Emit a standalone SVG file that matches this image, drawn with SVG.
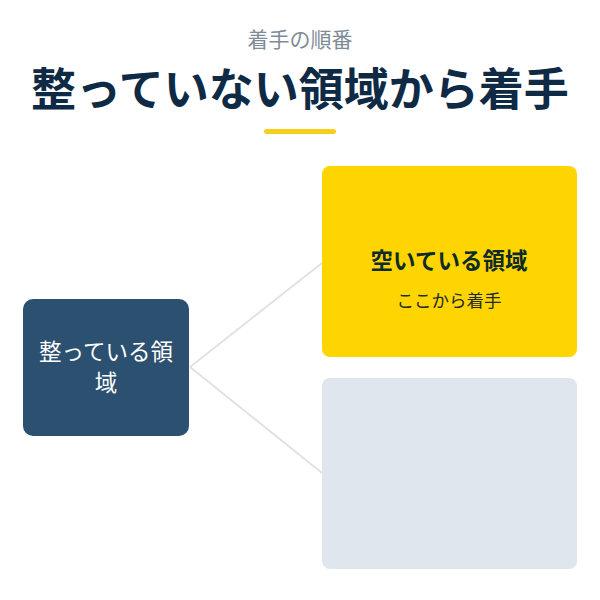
<svg xmlns="http://www.w3.org/2000/svg" width="600" height="600" viewBox="0 0 600 600">
<style>
.jp{font-family:"Noto Sans CJK JP","Noto Sans",sans-serif;text-anchor:middle}
.conn{stroke:#e2e2e2;stroke-width:2;fill:none}
</style>
<rect width="600" height="600" fill="#ffffff"/>
<g id="header">
<text class="jp" x="300" y="47" font-size="21" fill="#7f8b97">着手の順番</text>
<text class="jp" x="300" y="106" font-size="45" font-weight="bold" fill="#0e2a45">整っていない領域から着手</text>
<rect x="264" y="129" width="72" height="5" rx="2.5" fill="#f5cf1a"/>
</g>
<g id="connectors">
<line class="conn" x1="190" y1="367" x2="322" y2="263"/>
<line class="conn" x1="190" y1="367" x2="322" y2="473"/>
</g>
<g id="node-left">
<rect x="23" y="299" width="166" height="137" rx="10" fill="#2b5070"/>
<text class="jp" x="106" y="360" font-size="22.5" fill="#ffffff">整っている領</text>
<text class="jp" x="106" y="391" font-size="22.5" fill="#ffffff">域</text>
</g>
<g id="node-empty">
<rect x="322" y="166" width="255" height="191" rx="8" fill="#ffd500"/>
<text class="jp" x="449" y="269" font-size="22.5" font-weight="bold" fill="#0e2a2a">空いている領域</text>
<text class="jp" x="449" y="307" font-size="17.5" fill="#1f2a2a">ここから着手</text>
</g>
<g id="node-other">
<rect x="322" y="378" width="255" height="191" rx="8" fill="#e0e6ee"/>
</g>
</svg>
